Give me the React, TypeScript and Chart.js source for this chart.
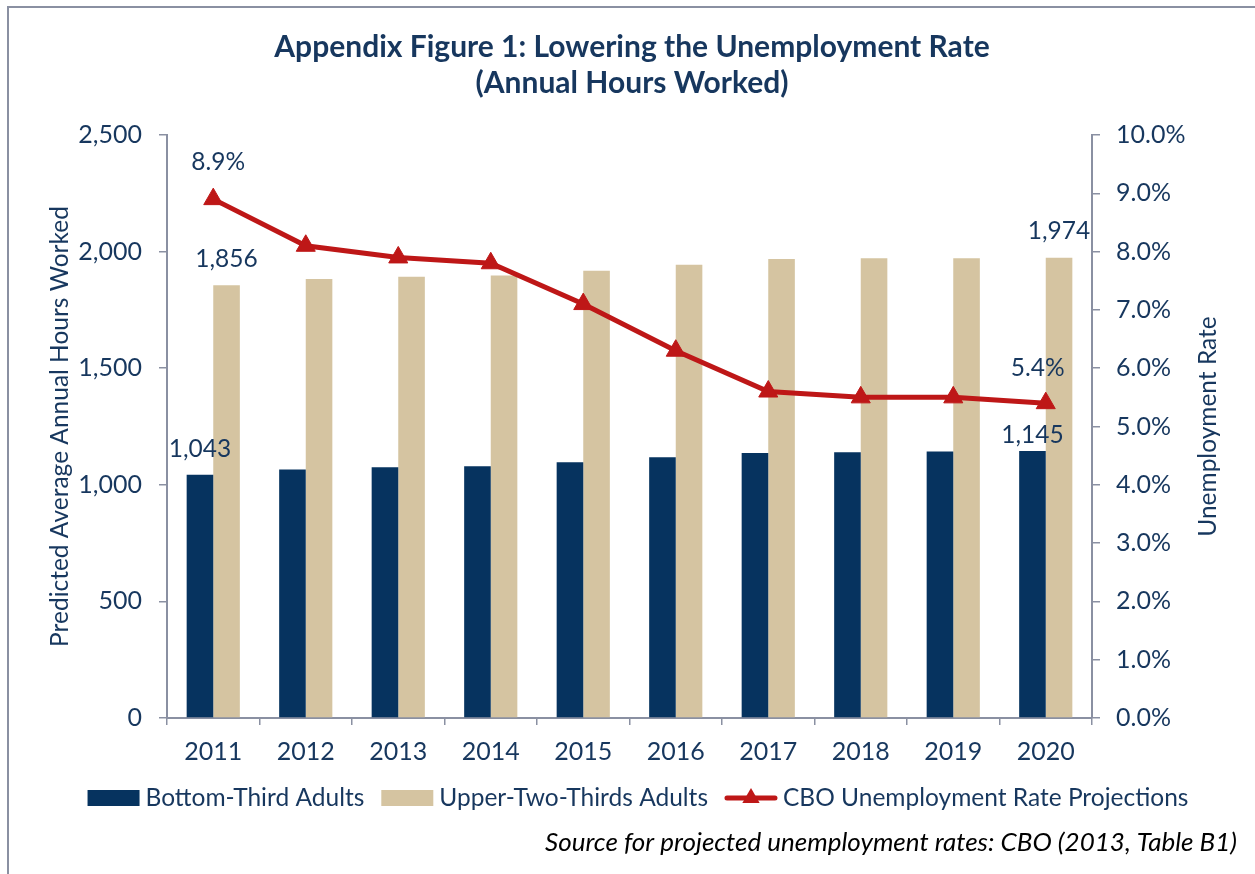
import React, { useEffect, useRef } from "react";
import { Chart, registerables } from "chart.js";

Chart.register(...registerables);

// ---- data ----
const years = ["2011", "2012", "2013", "2014", "2015", "2016", "2017", "2018", "2019", "2020"];
const bottomThird = [1043, 1066, 1075, 1080, 1097, 1118, 1136, 1140, 1143, 1145];
const upperTwoThirds = [1856, 1883, 1892, 1897, 1918, 1944, 1968, 1971, 1972, 1974];
const unemploymentRate = [8.9, 8.1, 7.9, 7.8, 7.1, 6.3, 5.6, 5.5, 5.5, 5.4];

const titleLines = ["Appendix Figure 1: Lowering the Unemployment Rate", "(Annual Hours Worked)"];
const leftAxisTitle = "Predicted Average Annual Hours Worked";
const rightAxisTitle = "Unemployment Rate";
const sourceNote = "Source for projected unemployment rates: CBO (2013, Table B1)";
const seriesNames = ["Bottom-Third Adults", "Upper-Two-Thirds Adults", "CBO Unemployment Rate Projections"];

// ---- style ----
const FONT = "Lato, 'Open Sans', sans-serif";
const TEXT = "#17375E";
const NAVY = "#06335F";
const TAN = "#D5C4A1";
const RED = "#BE1717";
const AXIS = "#8A90A2";
const FS = 24.5;
const TICK_FS = 25;

const fmtHours = (v: number) => v.toLocaleString("en-US");
const fmtPct = (v: number) => v.toFixed(1) + "%";

const endLabelsPlugin = {
  id: "endLabels",
  afterDatasetsDraw(chart: any) {
    const ctx = chart.ctx;
    ctx.save();
    ctx.font = `${FS}px ${FONT}`;
    ctx.fillStyle = TEXT;
    ctx.textAlign = "center";
    ctx.textBaseline = "middle";
    chart.data.datasets.forEach((ds: any, di: number) => {
      const meta = chart.getDatasetMeta(di);
      const last = ds.data.length - 1;
      [0, last].forEach((i, k) => {
        const el = meta.data[i];
        if (!el) return;
        const v = ds.data[i];
        const off = ds.labelOffsets[k];
        const text = ds.type === "line" ? fmtPct(v) : fmtHours(v);
        ctx.fillText(text, el.x + off[0], el.y - off[1]);
      });
    });
    ctx.restore();
  },
};

const decorPlugin = {
  id: "decor",
  afterDraw(chart: any) {
    const ctx = chart.ctx;
    const area = chart.chartArea;
    ctx.save();
    // right axis title, reading bottom-to-top
    ctx.font = `${FS}px ${FONT}`;
    ctx.fillStyle = TEXT;
    ctx.textAlign = "center";
    ctx.textBaseline = "middle";
    ctx.translate(1208, (area.top + area.bottom) / 2);
    ctx.rotate(-Math.PI / 2);
    ctx.fillText(rightAxisTitle, 0, 0);
    ctx.setTransform(1, 0, 0, 1, 0, 0);

    // legend
    ctx.font = `${FS}px ${FONT}`;
    ctx.textBaseline = "middle";
    ctx.textAlign = "left";
    const order = [1, 2, 0];
    const boxW = 52;
    const gapText = 6;
    const gapItem = 17;
    const items = order.map((di) => chart.data.datasets[di]);
    const widths = items.map((ds: any) => ctx.measureText(ds.label).width);
    const total = widths.reduce((a: number, w: number) => a + boxW + gapText + w, 0) + gapItem * (items.length - 1);
    let x = 638 - total / 2;
    const y = 798;
    items.forEach((ds: any, i: number) => {
      if (ds.type === "line") {
        ctx.strokeStyle = ds.borderColor;
        ctx.lineWidth = 5;
        ctx.lineCap = "round";
        ctx.beginPath();
        ctx.moveTo(x + 2, y);
        ctx.lineTo(x + boxW - 2, y);
        ctx.stroke();
        const cx = x + boxW / 2;
        const r = 10;
        ctx.fillStyle = ds.pointBackgroundColor;
        ctx.beginPath();
        ctx.moveTo(cx, y - r);
        ctx.lineTo(cx + r * 0.866, y + r * 0.5);
        ctx.lineTo(cx - r * 0.866, y + r * 0.5);
        ctx.closePath();
        ctx.fill();
      } else {
        ctx.fillStyle = ds.backgroundColor;
        ctx.fillRect(x, y - 8, boxW, 16);
      }
      ctx.fillStyle = TEXT;
      ctx.fillText(ds.label, x + boxW + gapText, y);
      x += boxW + gapText + widths[i] + gapItem;
    });

    // source note
    ctx.font = `italic 26px ${FONT}`;
    ctx.fillStyle = "#000000";
    ctx.textAlign = "right";
    ctx.fillText(sourceNote, 1237, 843);
    ctx.restore();
  },
};

export default function App() {
  const ref = useRef<HTMLCanvasElement | null>(null);

  useEffect(() => {
    if (!ref.current) return;
    const chart = new Chart(ref.current, {
      type: "bar",
      data: {
        labels: years,
        datasets: [
          {
            type: "line",
            label: seriesNames[2],
            data: unemploymentRate,
            yAxisID: "y1",
            order: 0,
            borderColor: RED,
            backgroundColor: RED,
            borderWidth: 5,
            pointStyle: "triangle",
            pointRadius: 11,
            pointBackgroundColor: RED,
            pointBorderColor: RED,
            pointBorderWidth: 1,
            tension: 0,
            labelOffsets: [[5, 37], [-8, 35]],
          } as any,
          {
            type: "bar",
            label: seriesNames[0],
            data: bottomThird,
            yAxisID: "y",
            order: 1,
            backgroundColor: NAVY,
            borderWidth: 0,
            barPercentage: 1,
            categoryPercentage: 0.575,
            labelOffsets: [[0, 26], [0, 16]],
          } as any,
          {
            type: "bar",
            label: seriesNames[1],
            data: upperTwoThirds,
            yAxisID: "y",
            order: 2,
            backgroundColor: TAN,
            borderWidth: 0,
            barPercentage: 1,
            categoryPercentage: 0.575,
            labelOffsets: [[0, 26], [0, 27]],
          } as any,
        ],
      },
      options: {
        responsive: false,
        animation: false,
        layout: { padding: { left: 9, right: 0, top: 0, bottom: 96 } },
        plugins: {
          legend: { display: false },
          tooltip: { enabled: false },
          title: {
            display: true,
            text: titleLines,
            color: TEXT,
            font: { family: FONT, size: 30, weight: "bold", lineHeight: "36px" } as any,
            padding: { top: 29, bottom: 34 },
          },
        },
        scales: {
          x: {
            grid: { drawOnChartArea: false, color: AXIS, lineWidth: 1.5, tickLength: 7, offset: true },
            border: { color: AXIS, width: 2 },
            ticks: { color: TEXT, font: { family: FONT, size: TICK_FS }, padding: 12, maxRotation: 0 },
            afterFit: (s: any) => {
              s.height = 60;
            },
          },
          y: {
            position: "left",
            min: 0,
            max: 2500,
            grid: { drawOnChartArea: false, color: AXIS, lineWidth: 1.5, tickLength: 8 },
            border: { color: AXIS, width: 2 },
            ticks: {
              stepSize: 500,
              color: TEXT,
              font: { family: FONT, size: TICK_FS },
              padding: 17,
              callback: (v: any) => fmtHours(Number(v)),
            },
            title: {
              display: true,
              text: leftAxisTitle,
              color: TEXT,
              font: { family: FONT, size: FS },
              padding: { top: 36, bottom: 0 },
            },
            afterFit: (s: any) => {
              s.width = 158;
            },
          },
          y1: {
            position: "right",
            min: 0,
            max: 10,
            grid: { drawOnChartArea: false, color: AXIS, lineWidth: 1.5, tickLength: 8 },
            border: { color: AXIS, width: 2 },
            ticks: {
              stepSize: 1,
              color: TEXT,
              font: { family: FONT, size: TICK_FS },
              padding: 16,
              callback: (v: any) => fmtPct(Number(v)),
            },
            afterFit: (s: any) => {
              s.width = 163;
            },
          },
        },
      },
      plugins: [endLabelsPlugin, decorPlugin],
    } as any);
    return () => chart.destroy();
  }, []);

  return (
    <div style={{ position: "absolute", left: 0, top: 0, width: 1255, height: 874, overflow: "hidden", background: "#fff" }}>
      <div
        style={{
          position: "absolute",
          left: 7,
          top: 6,
          width: 1248,
          height: 868,
          boxSizing: "border-box",
          borderLeft: `2px solid ${AXIS}`,
          borderTop: `2px solid ${AXIS}`,
        }}
      />
      <canvas ref={ref} width={1255} height={874} style={{ position: "absolute", left: 0, top: 0 }} />
    </div>
  );
}
